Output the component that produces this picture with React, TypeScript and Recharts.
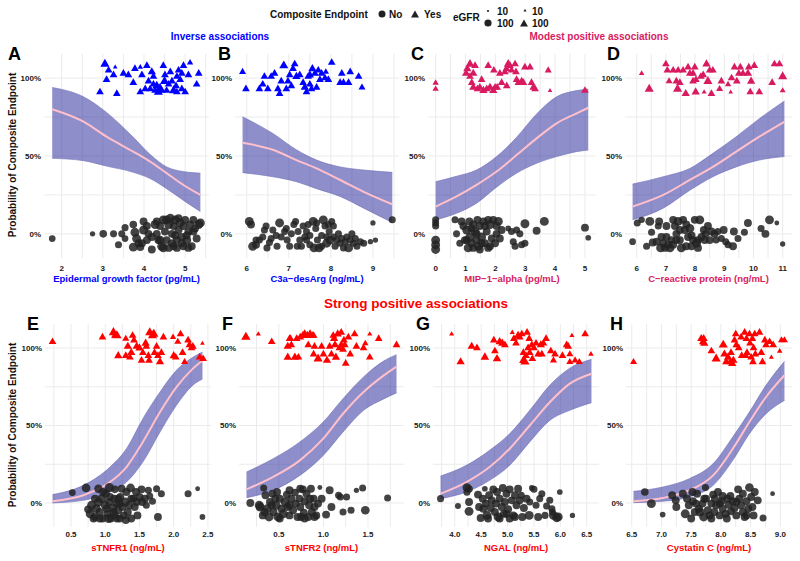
import React from "react";
import {
  ComposedChart,
  Scatter,
  Area,
  Line,
  XAxis,
  YAxis,
  ZAxis,
  CartesianGrid,
} from "recharts";

type P = [number, number, number]; // [biomarker, jittered outcome, eGFR]

const FONT = "Liberation Sans, Arial, Helvetica, sans-serif";
const BLUE = "#0000FF";
const PINK = "#D81B60";
const RED = "#FF0000";

// ---------- fitted curves (x, lower CI, fit, upper CI) ----------
const aX = [1.77, 2.53, 3.09, 3.74, 4.15, 4.55, 4.96, 5.37];
const aLo = [0.485, 0.47, 0.435, 0.395, 0.355, 0.29, 0.215, 0.143];
const aFit = [0.8, 0.72, 0.624, 0.528, 0.464, 0.39, 0.314, 0.25];
const aHi = [0.94, 0.88, 0.78, 0.62, 0.51, 0.43, 0.4, 0.39];

const bX = [5.9, 6.62, 7.18, 7.66, 8.22, 8.78, 9.46];
const bLo = [0.393, 0.367, 0.335, 0.29, 0.24, 0.165, 0.073];
const bFit = [0.585, 0.54, 0.474, 0.42, 0.346, 0.27, 0.19];
const bHi = [0.752, 0.645, 0.54, 0.474, 0.43, 0.41, 0.395];

const cX = [0, 0.7, 1.37, 2.04, 2.71, 3.38, 4.05, 4.72, 5.11];
const cLo = [0.09, 0.132, 0.197, 0.3, 0.39, 0.453, 0.496, 0.528, 0.538];
const cFit = [0.175, 0.24, 0.314, 0.4, 0.506, 0.613, 0.71, 0.774, 0.81];
const cHi = [0.335, 0.37, 0.41, 0.496, 0.62, 0.77, 0.88, 0.92, 0.93];

const dX = [5.86, 6.91, 7.82, 8.61, 9.41, 10.2, 11.06];
const dLo = [0.09, 0.165, 0.28, 0.367, 0.43, 0.474, 0.496];
const dFit = [0.175, 0.25, 0.346, 0.43, 0.528, 0.624, 0.72];
const dHi = [0.32, 0.367, 0.42, 0.517, 0.624, 0.74, 0.853];

const eX = [0.23, 0.68, 1.07, 1.31, 1.55, 1.8, 2.04, 2.28, 2.42];
const eLo = [0.0, 0.017, 0.071, 0.135, 0.265, 0.458, 0.63, 0.76, 0.8];
const eFit = [0.011, 0.05, 0.135, 0.232, 0.394, 0.587, 0.748, 0.867, 0.92];
const eHi = [0.054, 0.114, 0.232, 0.35, 0.544, 0.716, 0.856, 0.94, 0.974];

const fX = [0.137, 0.436, 0.736, 0.998, 1.22, 1.45, 1.67, 1.82];
const fLo = [0.034, 0.082, 0.178, 0.307, 0.458, 0.598, 0.67, 0.71];
const fFit = [0.088, 0.168, 0.275, 0.415, 0.576, 0.716, 0.82, 0.88];
const fHi = [0.2, 0.286, 0.394, 0.523, 0.673, 0.813, 0.914, 0.957];

const gX = [3.73, 4.22, 4.66, 5.04, 5.42, 5.8, 6.18, 6.59];
const gLo = [0.028, 0.071, 0.146, 0.243, 0.394, 0.533, 0.598, 0.647];
const gFit = [0.06, 0.135, 0.232, 0.35, 0.5, 0.65, 0.77, 0.834];
const gHi = [0.174, 0.243, 0.34, 0.447, 0.598, 0.76, 0.87, 0.927];

const hX = [6.53, 7.02, 7.47, 7.87, 8.2, 8.48, 8.76, 9.07];
const hLo = [0.002, 0.011, 0.039, 0.114, 0.275, 0.447, 0.576, 0.662];
const hFit = [0.011, 0.032, 0.082, 0.178, 0.35, 0.523, 0.684, 0.824];
const hHi = [0.075, 0.103, 0.157, 0.254, 0.426, 0.587, 0.76, 0.914];

// ---------- observations: triangles = endpoint yes, circles = no ----------
const aTri: P[] = [
  [3.05,1.09,85],[3.3,1.07,20],[3.14,1.05,60],[3.26,1.02,60],[3.09,0.99,60],[2.93,0.91,60],[3.34,0.9,60],
  [3.5,1.03,60],[3.62,1.02,60],[3.74,0.97,60],[3.78,1.06,60],[3.91,1.07,30],[3.95,1.02,60],[4.07,1.08,60],
  [4.11,0.98,60],[4.19,1.04,70],[4.23,1.01,60],[4.31,0.95,85],[3.91,0.91,60],[4.03,0.93,60],[4.27,0.92,60],
  [4.35,0.91,85],[4.39,0.94,60],[4.47,1.08,60],[4.51,1.02,60],[4.64,1.04,60],[4.68,0.98,60],[4.72,0.92,85],
  [4.8,1.01,60],[4.84,1.05,60],[4.88,0.99,60],[4.92,0.93,60],[4.96,1.08,60],[5.0,0.91,60],[5.12,1.1,40],
  [5.08,1.02,60],[5.33,1.03,60],[5.28,0.96,60],[4.55,0.92,60],[4.43,0.92,60],[4.23,0.96,60],[4.78,0.95,60],
  [4.6,0.96,60],[4.8,0.91,60],[4.92,1.03,60],[4.5,0.98,85],[4.15,0.93,60],
];
const aCir: P[] = [
  [1.77,-0.03,55],[2.75,0,35],[3.01,0,70],[3.26,0,60],[3.38,-0.07,60],[3.46,0,60],[3.54,-0.03,55],[3.54,0.04,60],
  [3.74,0.06,70],[3.78,0.01,95],[3.82,-0.03,95],[3.87,-0.06,75],[3.74,-0.085,95],[3.91,-0.085,75],[3.99,0.08,75],
  [3.99,0.025,95],[4.07,-0.04,75],[4.11,0,75],[4.19,-0.1,75],[4.27,0.06,95],[4.31,0,75],[4.35,-0.04,75],
  [4.39,0.05,75],[4.43,-0.08,95],[4.47,0.09,95],[4.51,0.015,75],[4.55,-0.04,75],[4.6,0.06,95],[4.64,0.1,95],
  [4.68,0,75],[4.72,0.05,75],[4.72,-0.08,75],[4.76,0.09,95],[4.8,-0.04,75],[4.84,0.025,75],[4.88,0.07,95],
  [4.92,-0.02,75],[4.96,-0.08,75],[5.0,0.09,75],[5.04,-0.04,95],[5.08,0.015,75],[5.12,0.06,75],[5.16,-0.08,75],
  [5.2,0.09,75],[5.28,-0.03,75],[5.33,0.06,95],[5.37,0.07,95],[4.31,0.08,75],[4.55,0.09,95],[4.84,0.1,75],
  [4.19,-0.02,75],[4.68,-0.06,75],[4.92,-0.06,75],[4.39,-0.04,95],[5.04,-0.01,75],[5.2,0.015,75],[4.07,0.05,75],
  [3.95,-0.06,75],[4.47,-0.09,95],[4.6,-0.09,75],[5.08,-0.09,75],[4.8,-0.09,75],[4.96,0.05,75],[4.76,-0.01,75],
  [5.24,0.035,75],
];

const bTri: P[] = [
  [5.9,1.04,50],[5.98,0.93,60],[6.3,0.93,60],[6.42,1.01,60],[6.38,0.96,60],[6.5,0.93,60],[6.58,1.01,60],
  [6.66,1.03,60],[6.74,0.93,60],[6.78,0.9,60],[6.82,0.98,60],[6.88,1.08,85],[6.94,0.93,60],[6.98,0.98,60],
  [7.02,1.02,60],[7.06,0.95,60],[7.1,1.06,60],[7.14,1.09,60],[7.18,1.01,70],[7.26,1.02,60],[7.34,0.97,60],
  [7.38,0.94,70],[7.42,0.91,60],[7.46,1.01,60],[7.5,1.02,70],[7.5,0.96,60],[7.56,1.06,70],[7.62,1.03,60],
  [7.66,0.94,60],[7.7,1.05,60],[7.74,0.99,60],[7.78,1.03,60],[7.88,1.04,40],[7.94,0.99,60],[8.02,1.1,60],
  [8.26,1.03,60],[8.3,0.97,60],[8.42,0.97,60],[8.46,1.04,60],[8.66,1.01,60],[8.74,0.94,50],[8.22,0.97,60],
  [7.54,0.93,60],[7.86,1.0,60],
];
const bCir: P[] = [
  [6.06,0.08,95],[6.1,0.06,75],[6.14,-0.08,95],[6.22,-0.07,75],[6.3,-0.04,60],[6.38,-0.02,60],[6.42,0.025,60],
  [6.46,0.05,60],[6.48,-0.09,60],[6.58,-0.03,60],[6.62,0.025,60],[6.7,-0.01,60],[6.72,-0.08,60],[6.78,0.07,95],
  [6.82,-0.02,60],[6.9,0.015,60],[6.96,-0.04,60],[7.02,-0.08,60],[7.06,0,60],[7.12,0.06,60],[7.16,0.08,60],
  [7.22,0.015,60],[7.26,-0.04,60],[7.3,-0.08,60],[7.34,0.05,60],[7.38,-0.02,60],[7.42,0.015,60],[7.46,0.06,60],
  [7.5,-0.01,60],[7.58,0.08,95],[7.6,-0.09,95],[7.64,0.035,60],[7.68,-0.04,60],[7.72,-0.09,95],[7.78,-0.01,60],
  [7.82,0.09,95],[7.86,0.05,60],[7.9,-0.06,95],[7.96,0.015,60],[7.98,-0.04,95],[8.02,0.08,60],[8.06,0.05,60],
  [8.1,-0.08,60],[8.14,-0.04,60],[8.18,0,60],[8.22,-0.06,60],[8.26,-0.03,60],[8.3,-0.09,60],[8.34,-0.05,60],
  [8.38,-0.02,60],[8.42,-0.09,95],[8.46,-0.04,60],[8.5,0,60],[8.54,-0.06,60],[8.58,-0.03,60],[8.62,-0.08,60],
  [8.7,-0.05,60],[8.78,-0.06,60],[8.94,-0.05,35],[9.0,0.07,35],[9.06,-0.04,35],[9.46,0.09,60],[6.22,-0.04,60],
  [6.54,-0.055,60],[7.2,-0.08,60],[7.5,-0.07,60],[7.78,-0.08,60],[7.9,-0.02,60],[8.06,-0.02,60],[7.42,-0.04,60],
  [6.94,0.035,60],[7.66,0.07,60],[7.94,0.06,60],
];

const cTri: P[] = [
  [0,0.97,40],[0,0.93,40],[1.15,1.09,80],[1.06,1.06,70],[1.32,1.08,60],[1.26,1.03,70],[1.02,1.03,70],
  [1.15,1.01,60],[1.21,0.97,60],[1.26,0.94,70],[1.4,0.93,60],[1.48,0.94,60],[1.6,0.92,70],[1.76,1.08,60],
  [1.82,0.94,70],[1.93,0.92,70],[1.99,0.94,60],[1.95,1.05,60],[2.15,1.03,60],[2.21,0.97,60],[2.32,1.04,60],
  [2.37,1.06,60],[2.43,1.09,80],[2.49,1.08,60],[2.54,1.05,60],[2.66,1.09,60],[2.69,1.04,60],[2.38,0.95,60],
  [2.71,0.99,60],[2.77,0.97,60],[2.88,0.98,60],[2.99,1.07,60],[2.94,0.97,60],[3.16,1.07,60],[3.21,0.97,60],
  [3.27,0.94,60],[3.33,0.93,60],[3.77,1.05,50],[3.83,0.92,20],[5.0,0.92,60],[1.54,0.99,60],[2.06,0.94,60],
  [1.71,0.93,60],
];
const cCir: P[] = [
  [0,0.09,60],[0,0.07,60],[0,-0.04,95],[0,-0.07,95],[0,-0.1,95],[0,0.05,60],[0.65,0.09,60],[0.87,0.08,75],
  [0.93,0.05,75],[0.98,-0.04,75],[1.04,0.025,95],[1.09,-0.09,95],[1.13,0.08,75],[1.15,-0.02,95],[1.2,-0.06,75],
  [1.26,0.06,75],[1.32,0.015,95],[1.37,-0.04,75],[1.4,0.09,75],[1.43,-0.08,95],[1.48,0.05,75],[1.54,-0.02,95],
  [1.6,0.08,75],[1.65,-0.06,75],[1.71,0.015,75],[1.76,-0.09,75],[1.82,0.06,95],[1.88,-0.03,75],[1.93,0.09,75],
  [1.99,-0.06,75],[2.04,0,75],[2.1,0.08,95],[2.15,-0.03,75],[2.21,0.025,75],[2.43,0.035,40],[2.54,0.015,60],
  [2.6,-0.05,60],[2.66,-0.08,60],[2.71,0.025,60],[2.82,0,60],[2.88,-0.07,60],[2.99,-0.06,60],[2.99,0.065,95],
  [3.38,0.02,75],[3.64,0.08,95],[5.0,0.04,75],[5.11,-0.025,40],[0.7,0,60],[0.81,-0.06,60],[1.04,-0.04,75],
  [1.26,-0.09,75],[1.65,0.05,75],[1.82,-0.08,75],[1.37,0,75],[1.2,0.035,75],[1.54,-0.06,75],[2.04,0.05,75],
  [1.76,0.09,75],[1.48,-0.1,75],
];

const dTri: P[] = [
  [6.17,1.03,30],[6.43,0.93,85],[7.0,1.09,60],[7.05,1.05,60],[7.11,0.98,50],[7.25,1.05,60],[7.36,0.98,60],
  [7.42,1.05,60],[7.4,0.93,85],[7.48,0.97,60],[7.68,0.9,70],[7.76,1.07,60],[7.82,1.03,60],[7.93,0.98,60],
  [7.99,1.07,60],[8.02,0.91,70],[8.03,0.99,60],[8.2,1.01,60],[8.28,1.02,60],[8.31,0.91,25],[8.39,1.09,70],
  [8.44,0.98,85],[8.5,1.05,60],[8.56,0.9,60],[8.61,1.05,60],[8.84,0.93,50],[8.9,0.98,60],[9.13,0.96,40],
  [9.22,0.91,20],[9.25,1.0,60],[9.35,1.07,60],[9.43,0.98,60],[9.5,1.03,60],[9.55,1.07,60],[9.64,1.03,60],
  [9.81,1.03,70],[9.84,1.07,60],[9.89,0.91,60],[9.92,0.98,70],[10.03,1.08,60],[10.2,0.91,60],[10.64,0.97,60],
  [10.72,1.09,60],[10.89,1.09,60],[11.0,1.01,85],[11.0,0.92,35],[7.93,1.03,60],[7.59,1.05,60],
];
const dCir: P[] = [
  [5.86,-0.05,55],[6.02,0.07,60],[6.17,0.09,50],[6.34,-0.08,60],[6.45,0.08,95],[6.51,0.01,60],[6.55,-0.055,75],
  [6.68,-0.05,75],[6.74,0.05,60],[6.77,0.08,75],[6.82,-0.09,95],[6.91,-0.06,75],[6.97,-0.09,75],[7.02,-0.02,75],
  [7.08,-0.07,75],[7.14,-0.09,95],[7.19,-0.04,75],[7.25,0.09,75],[7.31,0.05,75],[7.36,0,75],[7.42,0.08,95],
  [7.48,-0.04,75],[7.53,-0.09,95],[7.59,0.09,75],[7.65,0.025,75],[7.7,0.06,75],[7.76,-0.02,75],[7.82,0.035,95],
  [7.88,-0.01,75],[7.93,-0.04,75],[7.99,0.09,75],[8.05,-0.06,95],[8.1,-0.09,75],[8.16,0.09,95],[8.22,-0.02,75],
  [8.3,0.025,75],[8.36,0,75],[8.44,0.05,75],[8.5,-0.04,75],[8.56,0.015,75],[8.67,0,75],[8.78,0.015,60],
  [8.9,-0.03,60],[8.98,0.025,75],[9.05,-0.05,60],[9.13,-0.07,60],[9.3,-0.08,75],[9.33,0.015,75],[9.47,-0.03,60],
  [9.69,0.01,60],[9.81,0.07,75],[10.26,0.035,60],[10.41,0,75],[10.55,0.09,95],[10.8,0.07,30],[11.0,-0.065,35],
  [7.02,0.05,75],[7.25,-0.07,75],[7.7,-0.08,75],[8.1,-0.04,75],[6.85,-0.02,75],[7.48,0.025,75],[7.88,-0.08,75],
  [8.33,-0.04,75],[8.72,-0.04,60],[7.36,-0.04,75],
];

const eTri: P[] = [
  [0.23,1.04,60],[0.96,1.07,60],[1.12,1.1,90],[1.17,1.08,90],[1.19,0.95,70],[1.3,0.95,60],[1.3,1.06,50],
  [1.33,1.01,70],[1.38,0.97,70],[1.4,1.08,60],[1.42,1.05,60],[1.46,1.01,70],[1.5,1.0,70],[1.53,0.92,60],
  [1.55,0.97,60],[1.59,1.03,70],[1.6,1.01,60],[1.63,0.95,60],[1.64,0.92,60],[1.65,1.1,85],[1.69,1.08,85],
  [1.71,1.09,85],[1.72,0.97,60],[1.75,1.01,60],[1.77,0.95,60],[1.8,0.91,70],[1.82,0.97,60],[1.85,1.07,60],
  [1.99,1.07,40],[2.0,0.95,70],[2.03,0.94,60],[2.06,1.04,50],[2.1,1.09,60],[2.13,0.97,60],[2.16,0.91,50],
  [2.21,1.05,60],[2.23,1.02,60],[2.26,1.0,60],[2.28,1.01,60],[2.42,1.03,20],[2.38,0.94,60],[2.43,0.93,60],
  [1.14,1.08,60],[1.36,0.94,60],
];
const eCir: P[] = [
  [0.52,0.067,55],[0.72,0.097,90],[0.9,0.092,85],[1.06,0.1,95],[1.14,0.088,70],[0.8,-0.015,95],[0.78,-0.07,95],
  [0.85,-0.09,75],[0.87,-0.037,95],[0.9,0.006,95],[0.92,-0.058,75],[0.95,0.028,95],[0.96,-0.1,75],[1.0,-0.015,95],
  [1.01,0.06,75],[1.03,-0.07,75],[1.06,0.006,75],[1.08,-0.1,75],[1.11,-0.032,95],[1.13,0.028,75],[1.14,-0.08,75],
  [1.17,-0.004,75],[1.19,-0.047,75],[1.21,-0.1,75],[1.22,0.039,75],[1.25,-0.026,75],[1.27,-0.08,75],[1.29,0.006,95],
  [1.31,0.071,75],[1.33,-0.058,75],[1.35,-0.015,75],[1.37,0.097,90],[1.38,-0.1,75],[1.41,0.028,75],[1.43,-0.026,75],
  [1.45,0.071,75],[1.47,-0.08,75],[1.5,0.039,75],[1.53,0.088,75],[1.54,0.006,75],[1.58,0.028,75],[1.6,-0.015,60],
  [1.63,0.082,60],[1.65,0.045,60],[1.69,0.011,60],[1.75,0.092,60],[1.77,-0.09,75],[1.82,0.06,60],[2.21,0.06,60],
  [2.35,0.092,30],[2.42,-0.09,40],[0.83,-0.1,75],[1.05,-0.1,95],[1.17,-0.1,75],[1.3,-0.11,75],[1.21,-0.004,75],
  [0.92,-0.1,75],[1.02,-0.037,75],[1.12,-0.058,75],[1.24,0.092,75],[1.07,0.039,75],[0.97,0.071,75],[0.85,0.028,75],
  [1.38,0.028,75],[1.46,0.006,75],[1.19,0.028,75],[0.75,-0.041,75],
];

const fTri: P[] = [
  [0.13,1.07,90],[0.27,1.09,25],[0.42,1.04,60],[0.6,1.01,70],[0.62,1.06,60],[0.63,1.06,60],[0.64,1.02,60],
  [0.6,0.94,70],[0.68,0.94,70],[0.72,0.94,60],[0.7,1.06,60],[0.74,1.07,60],[0.77,1.08,70],[0.79,1.09,70],
  [0.82,1.08,70],[0.83,1.02,60],[0.85,1.09,70],[0.88,1.08,60],[0.89,1.08,60],[0.9,1.01,60],[0.94,0.93,85],
  [0.89,0.96,60],[0.98,1.01,60],[1.0,0.96,60],[1.04,0.92,70],[1.07,1.01,60],[1.09,0.96,60],[1.11,1.08,60],
  [1.12,1.06,70],[1.13,1.02,70],[1.14,0.94,70],[1.16,1.09,70],[1.18,1.0,60],[1.2,1.02,60],[1.2,1.1,60],
  [1.22,0.99,60],[1.23,1.05,60],[1.24,1.02,60],[1.25,0.9,60],[1.28,1.07,60],[1.3,0.96,60],[1.35,1.09,60],
  [1.37,1.01,60],[1.45,1.0,60],[1.47,1.03,40],[1.52,1.09,25],[1.52,0.94,60],[1.62,1.06,60],[1.82,1.02,60],
];
const fCir: P[] = [
  [0.18,0,75],[0.28,-0.015,95],[0.29,-0.026,95],[0.32,-0.08,75],[0.33,0.097,60],[0.35,0.05,75],[0.37,-0.037,95],
  [0.39,-0.09,95],[0.4,0.006,75],[0.43,0.06,75],[0.44,-0.058,75],[0.47,-0.015,95],[0.48,0.071,75],[0.49,-0.09,95],
  [0.51,0.028,75],[0.53,-0.037,75],[0.55,-0.07,95],[0.57,0.006,95],[0.59,0.054,75],[0.6,-0.026,75],[0.62,-0.08,75],
  [0.64,0.028,75],[0.66,-0.047,75],[0.68,0.067,75],[0.69,-0.004,75],[0.71,-0.09,75],[0.73,0.028,75],[0.74,-0.026,75],
  [0.77,0.088,75],[0.78,-0.062,75],[0.79,0.011,75],[0.81,0.06,75],[0.83,-0.09,75],[0.84,-0.015,75],[0.86,0.092,75],
  [0.87,-0.058,75],[0.89,0.028,75],[0.9,-0.026,75],[0.92,-0.08,75],[0.94,-0.004,75],[0.96,0.1,30],[0.98,0.028,75],
  [1.03,-0.075,75],[1.07,0.082,75],[1.09,-0.026,75],[1.17,0.05,60],[1.19,0.039,60],[1.22,-0.058,60],[1.26,0.039,60],
  [1.31,-0.047,60],[1.37,0.082,35],[1.44,0.097,60],[1.47,-0.047,90],[1.72,0.032,60],[0.34,-0.058,75],[0.42,-0.015,75],
  [0.51,-0.1,75],[0.62,-0.015,75],[0.75,-0.09,75],[0.85,0.028,75],[0.74,0.092,75],[0.62,0.082,75],[0.46,0.028,75],
  [0.9,-0.09,75],[0.79,-0.1,75],
];

const gTri: P[] = [
  [3.94,1.09,25],[4.11,0.91,70],[4.32,1.01,70],[4.42,1.0,60],[4.57,0.94,75],[4.74,1.05,60],[4.76,0.98,60],
  [4.8,0.93,75],[4.85,1.04,70],[4.9,1.03,70],[4.95,1.02,60],[5.09,1.1,25],[5.12,1.06,60],[5.16,1.03,60],
  [5.2,1.08,70],[5.23,1.07,60],[5.27,1.09,60],[5.3,0.97,60],[5.3,0.92,75],[5.33,0.91,85],[5.35,0.95,60],
  [5.37,1.1,60],[5.39,1.0,60],[5.41,1.06,60],[5.42,0.97,60],[5.46,1.02,60],[5.47,0.93,60],[5.5,1.0,60],
  [5.54,1.03,60],[5.58,0.96,60],[5.63,1.02,70],[5.65,0.96,60],[5.68,1.03,60],[5.73,1.06,60],[5.82,0.98,60],
  [5.87,0.92,50],[5.9,0.96,60],[6.04,0.95,60],[6.12,1.02,60],[6.15,1.01,60],[6.18,0.96,50],[6.22,1.08,25],
  [6.18,0.91,50],[6.28,0.92,50],[6.36,0.91,50],[6.47,1.09,60],[6.58,0.96,30],
];
const gCir: P[] = [
  [3.73,0.028,60],[4.06,-0.02,45],[4.23,0.1,90],[4.27,0.09,70],[4.23,0.07,60],[4.27,0.006,75],[4.27,-0.054,95],
  [4.44,0.054,75],[4.46,-0.026,75],[4.49,-0.097,75],[4.53,0.028,75],[4.57,0.092,40],[4.59,-0.004,75],[4.61,-0.08,95],
  [4.65,0.05,75],[4.68,-0.032,75],[4.7,0.017,75],[4.73,0.088,75],[4.76,-0.058,75],[4.78,-0.004,75],[4.8,0.071,75],
  [4.82,-0.09,95],[4.85,0.028,75],[4.89,-0.026,75],[4.91,0.097,75],[4.93,-0.07,75],[4.95,0.006,75],[4.98,0.06,75],
  [5.01,-0.04,75],[5.04,0.088,75],[5.08,0.017,75],[5.11,-0.08,75],[5.14,0.05,75],[5.17,-0.015,75],[5.2,0.092,75],
  [5.23,0.017,75],[5.28,-0.09,75],[5.31,-0.032,75],[5.36,0.028,75],[5.41,-0.08,95],[5.46,0.097,40],[5.5,0.088,60],
  [5.54,-0.015,60],[5.58,-0.09,75],[5.61,0.028,60],[5.65,0.06,60],[5.71,-0.08,60],[5.74,-0.02,60],[5.8,0.017,60],
  [5.85,-0.058,60],[5.87,-0.08,95],[5.93,-0.095,95],[5.96,-0.09,95],[5.99,0.071,40],[6.23,-0.08,35],[5.84,-0.037,60],
  [4.85,-0.1,75],[4.63,-0.1,75],[5.04,-0.1,75],[5.14,-0.09,75],[4.54,-0.037,75],[4.98,-0.07,75],[5.26,0.05,60],
  [5.42,0.006,60],
];

const hTri: P[] = [
  [6.53,0.91,50],[7.67,1.06,70],[7.7,1.04,70],[7.71,1.06,70],[7.72,1.03,70],[7.84,0.98,60],[7.92,0.93,85],
  [8.04,1.02,85],[8.06,0.96,70],[8.09,0.91,70],[8.12,0.94,70],[8.16,0.91,70],[8.17,0.97,60],[8.19,0.9,70],
  [8.21,0.92,70],[8.23,1.05,60],[8.25,1.09,60],[8.26,1.02,60],[8.3,1.0,60],[8.34,1.07,60],[8.4,1.1,60],
  [8.43,1.06,60],[8.44,0.97,60],[8.48,1.09,60],[8.49,1.03,60],[8.51,0.94,60],[8.53,1.06,60],[8.54,0.91,60],
  [8.55,1.0,60],[8.57,1.09,60],[8.58,0.96,60],[8.65,1.1,60],[8.68,0.97,60],[8.7,0.91,60],[8.74,1.05,60],
  [8.76,1.02,60],[8.82,1.04,60],[8.85,0.94,25],[8.88,1.02,60],[8.99,0.98,30],[9.02,1.05,50],[9.07,1.05,50],
  [8.42,0.95,60],[8.35,0.95,60],
];
const hCir: P[] = [
  [6.72,0.071,70],[6.83,-0.004,95],[7.02,-0.075,40],[7.18,0.05,75],[7.24,0.017,75],[7.25,-0.026,75],[7.36,0.06,75],
  [7.4,-0.07,95],[7.43,0.028,75],[7.46,-0.015,75],[7.52,0.071,75],[7.53,0.011,75],[7.56,-0.058,75],[7.6,0.06,75],
  [7.63,-0.037,75],[7.65,-0.058,95],[7.69,-0.004,75],[7.71,-0.09,95],[7.74,0.1,60],[7.75,0.028,75],[7.78,-0.047,75],
  [7.81,-0.08,75],[7.84,-0.004,75],[7.87,0.054,75],[7.89,-0.058,75],[7.92,-0.015,75],[7.95,0.071,75],[7.98,-0.08,75],
  [8.01,0.011,75],[8.03,-0.037,75],[8.08,-0.07,75],[8.1,-0.1,75],[8.13,-0.011,75],[8.16,0.045,75],[8.17,-0.054,75],
  [8.2,0.011,75],[8.23,-0.032,75],[8.26,-0.08,75],[8.29,0.088,75],[8.31,0.028,75],[8.34,-0.015,75],[8.37,0.06,75],
  [8.4,-0.09,75],[8.43,0.011,75],[8.46,-0.037,75],[8.48,0.1,90],[8.51,0.039,75],[8.53,-0.026,75],[8.55,-0.08,75],
  [8.57,0.071,75],[8.62,0.017,75],[8.71,-0.097,60],[8.87,0.06,30],[7.84,-0.1,75],[7.98,-0.004,75],[7.58,-0.004,75],
  [8.11,0.028,75],[8.26,0.006,75],[8.37,-0.058,75],[8.43,-0.08,75],[7.9,0.028,75],[8.03,0.045,75],[7.72,0.028,75],
  [7.5,-0.1,75],
];

// ---------- axis ticks and grid positions ----------
const yTicks = [0, 0.5, 1];
const yGrid = [0, 0.25, 0.5, 0.75, 1];

const aTicks = [2, 3, 4, 5];
const aGrid = [2, 2.5, 3, 3.5, 4, 4.5, 5, 5.5];
const bTicks = [6, 7, 8, 9];
const bGrid = [6, 6.5, 7, 7.5, 8, 8.5, 9, 9.5];
const cTicks = [0, 1, 2, 3, 4, 5];
const cGrid = [0, 0.5, 1, 1.5, 2, 2.5, 3, 3.5, 4, 4.5, 5];
const dTicks = [6, 7, 8, 9, 10, 11];
const dGrid = [6, 6.5, 7, 7.5, 8, 8.5, 9, 9.5, 10, 10.5, 11];
const eTicks = [0.5, 1, 1.5, 2, 2.5];
const eGrid = [0.25, 0.5, 0.75, 1, 1.25, 1.5, 1.75, 2, 2.25, 2.5];
const fTicks = [0.5, 1, 1.5];
const fGrid = [0.25, 0.5, 0.75, 1, 1.25, 1.5, 1.75];
const gTicks = [4, 4.5, 5, 5.5, 6, 6.5];
const gGrid = [3.75, 4, 4.25, 4.5, 4.75, 5, 5.25, 5.5, 5.75, 6, 6.25, 6.5];
const hTicks = [6.5, 7, 7.5, 8, 8.5, 9];
const hGrid = [6.5, 6.75, 7, 7.25, 7.5, 7.75, 8, 8.25, 8.5, 8.75, 9];

const YW = 36;
const XH = 22;
const PAD_R = 12;
const Y_DOMAIN: [number, number] = [-0.155, 1.155];

const ROW1 = { top: 54, h: 204, gap: 7, titleY: 282 };
const ROW2 = { top: 324, h: 203, gap: 4, titleY: 550.5 };

const panels = [
  { tag: "A", tagX: 8, row: ROW1, left: 44, right: 209, domain: [1.57, 5.58], ticks: aTicks, grid: aGrid, dec: 0,
    xs: aX, lo: aLo, fit: aFit, hi: aHi, tri: aTri, cir: aCir, color: BLUE, title: "Epidermal growth factor (pg/mL)" },
  { tag: "B", tagX: 218, row: ROW1, left: 235, right: 399, domain: [5.72, 9.62], ticks: bTicks, grid: bGrid, dec: 0,
    xs: bX, lo: bLo, fit: bFit, hi: bHi, tri: bTri, cir: bCir, color: BLUE, title: "C3a\u2212desArg (ng/mL)" },
  { tag: "C", tagX: 411, row: ROW1, left: 428, right: 596, domain: [-0.256, 5.37], ticks: cTicks, grid: cGrid, dec: 0,
    xs: cX, lo: cLo, fit: cFit, hi: cHi, tri: cTri, cir: cCir, color: PINK, title: "MIP\u22121\u2212alpha (pg/mL)" },
  { tag: "D", tagX: 607, row: ROW1, left: 625, right: 792, domain: [5.6, 11.32], ticks: dTicks, grid: dGrid, dec: 0,
    xs: dX, lo: dLo, fit: dFit, hi: dHi, tri: dTri, cir: dCir, color: PINK, title: "C\u2212reactive protein (ng/mL)" },
  { tag: "E", tagX: 27, row: ROW2, left: 45, right: 211, domain: [0.12, 2.545], ticks: eTicks, grid: eGrid, dec: 1,
    xs: eX, lo: eLo, fit: eFit, hi: eHi, tri: eTri, cir: eCir, color: RED, title: "sTNFR1 (ng/mL)" },
  { tag: "F", tagX: 222, row: ROW2, left: 239, right: 404, domain: [0.053, 1.904], ticks: fTicks, grid: fGrid, dec: 1,
    xs: fX, lo: fLo, fit: fFit, hi: fHi, tri: fTri, cir: fCir, color: RED, title: "sTNFR2 (ng/mL)" },
  { tag: "G", tagX: 416, row: ROW2, left: 433, right: 599, domain: [3.587, 6.733], ticks: gTicks, grid: gGrid, dec: 1,
    xs: gX, lo: gLo, fit: gFit, hi: gHi, tri: gTri, cir: gCir, color: RED, title: "NGAL (ng/mL)" },
  { tag: "H", tagX: 610, row: ROW2, left: 626, right: 792, domain: [6.403, 9.197], ticks: hTicks, grid: hGrid, dec: 1,
    xs: hX, lo: hLo, fit: hFit, hi: hHi, tri: hTri, cir: hCir, color: RED, title: "Cystatin C (ng/mL)" },
];

const tickStyle = { fontSize: 8, fontWeight: 700, fill: "#1a1a1a", fontFamily: FONT };

function Panel({ p }: { p: (typeof panels)[number] }) {
  const w = p.right - p.left;
  const curve = p.xs.map((x, i) => ({ x, band: [p.lo[i], p.hi[i]], fit: p.fit[i] }));
  const tri = p.tri.map(([x, y, e]) => ({ x, y, e }));
  const cir = p.cir.map(([x, y, e]) => ({ x, y, e }));
  return (
    <div style={{ position: "absolute", left: p.left - YW, top: p.row.top }}>
      <ComposedChart
        width={w + YW + PAD_R}
        height={p.row.h + XH}
        data={curve}
        margin={{ top: 0, right: PAD_R, bottom: 0, left: 0 }}
      >
        <CartesianGrid stroke="#EBEBEB" strokeWidth={1} horizontalValues={yGrid} verticalValues={p.grid} />
        <XAxis
          type="number"
          dataKey="x"
          domain={p.domain}
          allowDataOverflow
          ticks={p.ticks}
          tickFormatter={(v: number) => v.toFixed(p.dec)}
          axisLine={false}
          tickLine={false}
          tickSize={0}
          tickMargin={p.row.gap}
          height={XH}
          tick={tickStyle}
          interval={0}
        />
        <YAxis
          type="number"
          domain={Y_DOMAIN}
          allowDataOverflow
          ticks={yTicks}
          tickFormatter={(v: number) => `${Math.round(v * 100)}%`}
          axisLine={false}
          tickLine={false}
          tickSize={0}
          tickMargin={3}
          width={YW}
          tick={tickStyle}
          interval={0}
        />
        <ZAxis zAxisId="c" type="number" dataKey="e" domain={[10, 100]} range={[5, 66]} />
        <ZAxis zAxisId="t" type="number" dataKey="e" domain={[10, 100]} range={[5, 42]} />
        <Scatter data={cir} dataKey="y" zAxisId="c" shape="circle" fill="#222222" fillOpacity={0.85} isAnimationActive={false} />
        <Scatter data={tri} dataKey="y" zAxisId="t" shape="triangle" fill={p.color} isAnimationActive={false} />
        <Area
          dataKey="band"
          type="monotone"
          fill="#1E1E96"
          fillOpacity={0.5}
          stroke="#6F6FB8"
          strokeWidth={0.6}
          isAnimationActive={false}
          activeDot={false}
        />
        <Line dataKey="fit" type="monotone" stroke="#FFC0CB" strokeWidth={2} dot={false} activeDot={false} isAnimationActive={false} />
      </ComposedChart>
    </div>
  );
}

export default function App() {
  const t = { fontFamily: FONT, fontWeight: 700 } as const;
  return (
    <div style={{ position: "absolute", left: 0, top: 0, width: 800, height: 561, background: "#fff" }}>
      {panels.map((p) => (
        <Panel key={p.tag} p={p} />
      ))}
      <svg width={800} height={561} style={{ position: "absolute", left: 0, top: 0, pointerEvents: "none" }}>
        {/* legend */}
        <text x={270} y={17.5} fontSize={10} {...t} fill="#111">Composite Endpoint</text>
        <circle cx={382} cy={14} r={3.5} fill="#222" />
        <text x={389} y={17.5} fontSize={10} {...t} fill="#111">No</text>
        <polygon points="411,17.5 419,17.5 415,10.5" fill="#222" />
        <text x={424} y={17.5} fontSize={10} {...t} fill="#111">Yes</text>
        <text x={453} y={20.5} fontSize={10} {...t} fill="#111">eGFR</text>
        <circle cx={488} cy={11} r={1.1} fill="#222" />
        <text x={497} y={14.5} fontSize={10} {...t} fill="#111">10</text>
        <circle cx={488} cy={23} r={3.6} fill="#222" />
        <text x={497} y={26.5} fontSize={10} {...t} fill="#111">100</text>
        <polygon points="523.5,11.5 526.5,11.5 525,8.8" fill="#222" />
        <text x={532} y={14.5} fontSize={10} {...t} fill="#111">10</text>
        <polygon points="520,26.5 528,26.5 524,19.5" fill="#222" />
        <text x={532} y={26.5} fontSize={10} {...t} fill="#111">100</text>

        {/* group titles */}
        <text x={220} y={40} fontSize={10} {...t} fill={BLUE} textAnchor="middle">Inverse associations</text>
        <text x={599} y={40} fontSize={10} {...t} fill={PINK} textAnchor="middle">Modest positive associations</text>
        <text x={416} y={308} fontSize={13.5} {...t} fill={RED} textAnchor="middle">Strong positive associations</text>

        {/* y titles */}
        <text x={15.5} y={155} fontSize={10} {...t} fill="#111" textAnchor="middle" transform="rotate(-90 15.5 155)">
          Probability of Composite Endpoint
        </text>
        <text x={15.5} y={425} fontSize={10} {...t} fill="#111" textAnchor="middle" transform="rotate(-90 15.5 425)">
          Probability of Composite Endpoint
        </text>

        {panels.map((p) => (
          <g key={p.tag}>
            <text x={p.tagX} y={p.row === ROW1 ? 60 : 330} fontSize={18} {...t} fill="#000">{p.tag}</text>
            <text x={(p.left + p.right) / 2} y={p.row.titleY} fontSize={9.5} {...t} fill={p.color} textAnchor="middle">
              {p.title}
            </text>
          </g>
        ))}
      </svg>
    </div>
  );
}
